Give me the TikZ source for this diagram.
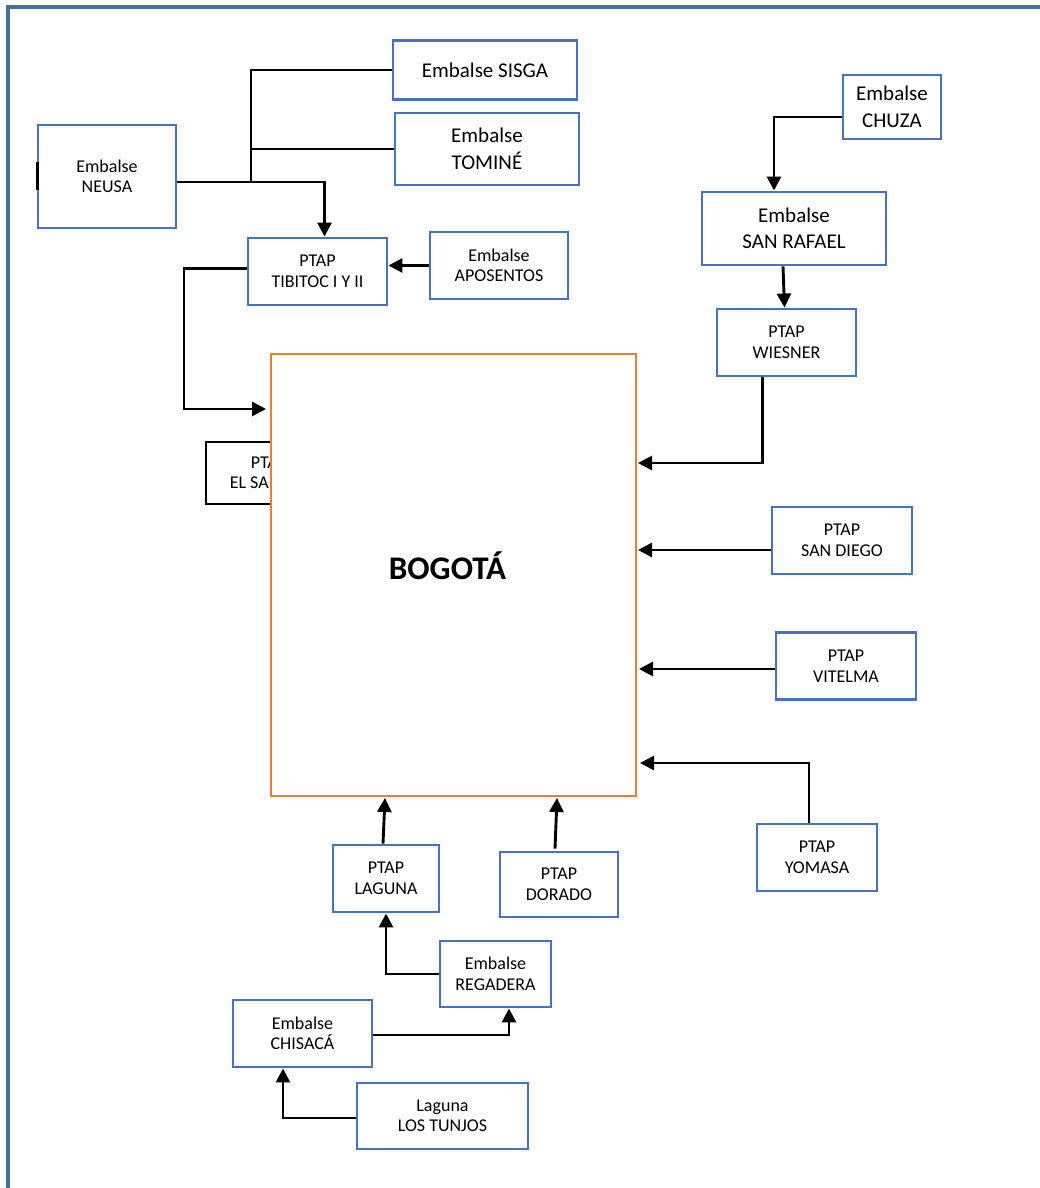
\documentclass[tikz,border=0pt]{standalone}
\usepackage{fontspec}
\setmainfont{Carlito}
\usetikzlibrary{arrows.meta}
\definecolor{frameblue}{RGB}{65,113,156}
\definecolor{boxblue}{RGB}{68,114,196}
\definecolor{boxorange}{RGB}{237,125,49}
\tikzset{
  box/.style={draw=boxblue, line width=2.9pt, fill=white, align=center, inner sep=0pt,
    font=\fontsize{18pt}{20.5pt}\selectfont},
  bigbox/.style={box, font=\fontsize{21pt}{26.5pt}\selectfont},
  blackbox/.style={box, draw=black},
  cityblock/.style={draw=boxorange, line width=2.7pt, fill=white},
  conn/.style={draw=black, line width=2.9pt},
  arr/.style={conn, -{Triangle[length=14pt,width=14pt]}},
  framestyle/.style={draw=frameblue, line width=3.4pt}
}
\begin{document}
\begin{tikzpicture}[x=1pt,y=-1pt]
\useasboundingbox (0,0) rectangle (1039,1188);
\fill[white] (0,0) rectangle (1039,1188);
\draw[framestyle] (8,1195) -- (8,7) -- (1045,7);

% upper left group
\node[bigbox, minimum width=184pt, minimum height=59pt] (sisga) at (485,70) {Embalse SISGA};
\node[bigbox, minimum width=184pt, minimum height=72pt] (tomine) at (487,149) {Embalse\\TOMINÉ};
\node[box, minimum width=138pt, minimum height=103pt] (neusa) at (107,176.5) {Embalse\\NEUSA};
\node[box, minimum width=139pt, minimum height=67pt] (tibitoc) at (317.5,271.5) {PTAP\\TIBITOC I Y II};
\node[box, minimum width=138pt, minimum height=67pt] (aposentos) at (499,265.5) {Embalse\\APOSENTOS};

% hidden plant behind the city
\node[blackbox, minimum width=126pt, minimum height=62pt] (salitre) at (269,473) {PTAP\\EL SALITRE};

% city
\node[cityblock, minimum width=365pt, minimum height=442pt] (bogota) at (453.5,575) {};
\node[font=\fontsize{33pt}{38pt}\selectfont\bfseries] (bogotatxt) at (447.5,566) {BOGOTÁ};

% right group
\node[bigbox, minimum width=98pt, minimum height=64pt] (chuza) at (892,107) {Embalse\\CHUZA};
\node[bigbox, minimum width=184pt, minimum height=73pt] (sanrafael) at (794,228.5) {Embalse\\SAN RAFAEL};
\node[box, minimum width=139pt, minimum height=67pt] (wiesner) at (786.5,342.5) {PTAP\\WIESNER};
\node[box, minimum width=140pt, minimum height=67pt] (sandiego) at (842,540.5) {PTAP\\SAN DIEGO};
\node[box, minimum width=140pt, minimum height=67pt] (vitelma) at (846,666) {PTAP\\VITELMA};
\node[box, minimum width=120pt, minimum height=67pt] (yomasa) at (817,857.5) {PTAP\\YOMASA};

% bottom group
\node[box, minimum width=106pt, minimum height=67pt] (laguna) at (386,878.5) {PTAP\\LAGUNA};
\node[box, minimum width=118pt, minimum height=65pt] (dorado) at (559,884.5) {PTAP\\DORADO};
\node[box, minimum width=111pt, minimum height=66pt] (regadera) at (495.5,974) {Embalse\\REGADERA};
\node[box, minimum width=139pt, minimum height=67pt] (chisaca) at (302.5,1033.5) {Embalse\\CHISACÁ};
\node[box, minimum width=171pt, minimum height=66pt] (tunjos) at (442.5,1116) {Laguna\\LOS TUNJOS};

% coordinates for free ends and bends
\coordinate (jn) at (251,182);
\coordinate (tibk) at (184,409);
\coordinate (tibin) at (266,409);
\coordinate (wb) at (638,463);
\coordinate (sdin) at (638,550);
\coordinate (vtin) at (639,669);
\coordinate (ymin) at (640,763);
\coordinate (lgin) at (385,798);
\coordinate (drin) at (557,798);

% connectors
\draw[conn] (sisga.west) -| (jn);
\draw[conn] (tomine.west) -- (tomine.west -| jn);
\draw[arr] ([yshift=-5.5pt]neusa.east) -| ([xshift=7pt]tibitoc.north);
\draw[conn, line width=3.2pt] ([xshift=1pt,yshift=14.5pt]neusa.west) -- ([xshift=1pt,yshift=-13.5pt]neusa.west);
\draw[arr] (aposentos.west) -- (aposentos.west -| tibitoc.east);
\draw[arr] ([yshift=3pt]tibitoc.west) -| (tibk) -- (tibin);
\draw[arr] ([yshift=-10pt]chuza.west) -| ([xshift=-20pt]sanrafael.north);
\draw[arr] ([xshift=-11pt]sanrafael.south) -- ([xshift=-2pt]wiesner.north);
\draw[arr] ([xshift=-24pt]wiesner.south) |- (wb);
\draw[arr] (sandiego.west |- sdin) -- (sdin);
\draw[arr] (vitelma.west |- vtin) -- (vtin);
\draw[arr] ([xshift=-8pt]yomasa.north) |- (ymin);
\draw[arr] ([xshift=-3pt]laguna.north) -- (lgin);
\draw[arr] ([xshift=-4pt,yshift=2pt]dorado.north) -- (drin);
\draw[arr] (regadera.west) -| (laguna.south);
\draw[arr] ([yshift=-1.5pt]chisaca.east) -| ([xshift=13.5pt]regadera.south);
\draw[arr] ([yshift=-2pt]tunjos.west) -| ([xshift=-19.5pt]chisaca.south);
\end{tikzpicture}
\end{document}
